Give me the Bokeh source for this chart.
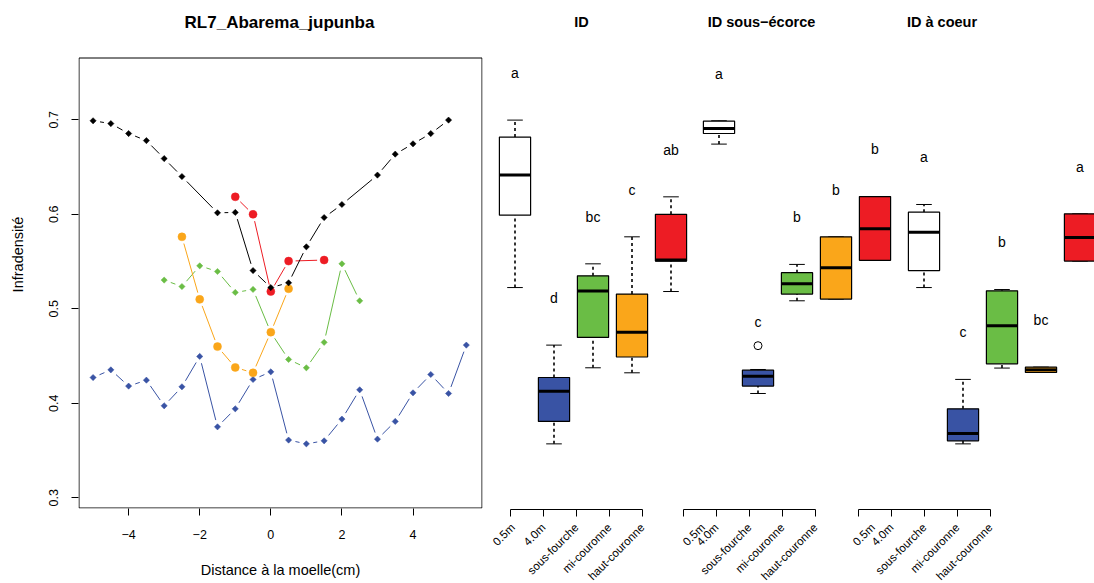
import math
from bokeh.plotting import figure
from bokeh.layouts import row, column
from bokeh.models import Range1d, FixedTicker, ColumnDataSource, BoxAnnotation
from bokeh.embed import file_html
from bokeh.resources import INLINE
from bokeh.core.properties import value

FONT = "Liberation Sans"

# ---------------- data ----------------
groups = ["0.5m", "4.0m", "sous-fourche", "mi-couronne", "haut-couronne"]
box_fill = ["#FFFFFF", "#3953A4", "#6ABD45", "#FAA61A", "#ED1C24"]
series_color = ["#000000", "#3953A4", "#6ABD45", "#FAA61A", "#ED1C24"]
series_marker = ["diamond", "diamond", "diamond", "circle", "circle"]

dist_05m = [-5, -4.5, -4, -3.5, -3, -2.5, -1.5, -1, -0.5, 0, 0.5, 1, 1.5, 2, 3, 3.5, 4, 4.5, 5]
id_05m = [0.699, 0.696, 0.6855, 0.678, 0.659, 0.640, 0.6016, 0.602, 0.5405, 0.5225,
          0.5275, 0.5656, 0.5966, 0.6104, 0.6415, 0.6637, 0.6746, 0.6855, 0.6997]
dist_40m = [-5, -4.5, -4, -3.5, -3, -2.5, -2, -1.5, -1, -0.5, 0, 0.5, 1, 1.5, 2, 2.5,
            3, 3.5, 4, 4.5, 5, 5.5]
id_40m = [0.4273, 0.4354, 0.4182, 0.4245, 0.3974, 0.4175, 0.4496, 0.3751, 0.3942, 0.4252,
          0.4333, 0.3611, 0.3571, 0.3603, 0.3833, 0.4143, 0.3621, 0.3808, 0.4111, 0.4305,
          0.4104, 0.4616]
dist_sf = [-3, -2.5, -2, -1.5, -1, -0.5, 0, 0.5, 1, 1.5, 2, 2.5]
id_sf = [0.5304, 0.5236, 0.5455, 0.5395, 0.5173, 0.5205, 0.475, 0.4464, 0.4376, 0.4645,
         0.5476, 0.5085]
dist_mc = [-2.5, -2, -1.5, -1, -0.5, 0, 0.5]
id_mc = [0.5762, 0.510, 0.460, 0.438, 0.4323, 0.4753, 0.5212]
dist_hc = [-1, -0.5, 0, 0.5, 1.5]
id_hc = [0.6185, 0.600, 0.5183, 0.5505, 0.5516]

id_letters = ["a", "d", "bc", "c", "ab"]

# ID sous-ecorce box statistics
se_lo = [0.6743, 0.4104, 0.5085, 0.5103, 0.5513]
se_q1 = [0.6855, 0.4182, 0.5156, 0.5103, 0.5513]
se_med = [0.6908, 0.4287, 0.5265, 0.5434, 0.5847]
se_q3 = [0.6986, 0.4351, 0.5383, 0.5762, 0.6188]
se_hi = [0.6990, 0.4358, 0.5470, 0.5762, 0.6188]
se_out_group = [2]
se_out_value = [0.461]
se_letters = ["a", "c", "b", "b", "b"]

# ID a coeur box statistics
ac_lo = [0.5225, 0.3571, 0.4373, 0.4326, 0.5505]
ac_q1 = [0.5405, 0.3603, 0.4418, 0.4326, 0.5505]
ac_med = [0.5809, 0.3681, 0.4820, 0.4354, 0.5754]
ac_q3 = [0.6023, 0.3942, 0.5190, 0.4383, 0.6005]
ac_hi = [0.6104, 0.4253, 0.5204, 0.4383, 0.6005]
ac_letters = ["a", "c", "b", "bc", "a"]

y_ticks = [0.3, 0.4, 0.5, 0.6, 0.7]
x_ticks = [-4, -2, 0, 2, 4]

main_title = "RL7_Abarema_jupunba"
panel_titles = ["ID", "ID sous\u2212écorce", "ID à coeur"]

# ---------------- layout constants ----------------
PLOT_TOP = 57      # top of the plotting box, px from page top
PLOT_H = 451       # height of the plotting box
FULL_H = PLOT_TOP + PLOT_H
Y0 = 0.2887
Y_PX = 945.0       # px per unit of infradensity
Y_BOX_TOP = Y0 + PLOT_H / Y_PX
Y_FULL_TOP = Y0 + FULL_H / Y_PX

LEFT_FW = 404
LEFT_X0 = 78
xr = Range1d(-5.41, 5.955)

LETTER_OFFSET = 0.05
BOX_PITCH = 39.0
TITLE_Y_PX = 21.5  # title centre, px from the top of the page


def y_from_top(px):
    return Y0 + (FULL_H - px) / Y_PX


def style_common(p):
    p.toolbar_location = None
    p.background_fill_color = "white"
    p.border_fill_color = "white"
    p.xgrid.visible = False
    p.ygrid.visible = False


def fivenum_stats(vals):
    x = sorted(vals)
    n = len(x)
    n4 = math.floor((n + 3) / 2) / 2
    d = [1, n4, (n + 1) / 2, n + 1 - n4, n]
    fn = [0.5 * (x[math.floor(di) - 1] + x[math.ceil(di) - 1]) for di in d]
    iqr = fn[3] - fn[1]
    inside = [v for v in x if fn[1] - 1.5 * iqr <= v <= fn[3] + 1.5 * iqr]
    return min(inside), fn[1], fn[2], fn[3], max(inside)


def gapped_segments(xs, ys, sx, sy, gap=7.0):
    x0, y0, x1, y1 = [], [], [], []
    for i in range(len(xs) - 1):
        dx = (xs[i + 1] - xs[i]) * sx
        dy = (ys[i + 1] - ys[i]) * sy
        L = math.hypot(dx, dy)
        if L <= 2 * gap:
            continue
        f = gap / L
        x0.append(xs[i] + f * (xs[i + 1] - xs[i]))
        y0.append(ys[i] + f * (ys[i + 1] - ys[i]))
        x1.append(xs[i + 1] - f * (xs[i + 1] - xs[i]))
        y1.append(ys[i + 1] - f * (ys[i + 1] - ys[i]))
    return dict(x0=x0, y0=y0, x1=x1, y1=y1)


# ---------------- left panel ----------------
p1 = figure(frame_width=LEFT_FW, frame_height=FULL_H, x_range=xr,
            y_range=Range1d(Y0, Y_FULL_TOP),
            min_border_left=LEFT_X0, min_border_right=8, min_border_top=0,
            min_border_bottom=75, output_backend="svg", toolbar_location=None)
style_common(p1)
p1.outline_line_color = None
sx = LEFT_FW / (xr.end - xr.start)

# plotting box (drawn just inside the region so no edge is clipped)
p1.add_layout(BoxAnnotation(left=xr.start + 0.5 / sx, right=xr.end - 0.5 / sx,
                            bottom=Y0 + 0.5 / Y_PX, top=Y_BOX_TOP - 0.5 / Y_PX,
                            fill_alpha=0, line_color="black", line_width=1,
                            line_alpha=1))

p1.text(x=[xr.start + (279 - LEFT_X0) / sx], y=[y_from_top(TITLE_Y_PX)],
        text=[main_title], text_align="center", text_baseline="middle",
        text_font=value(FONT), text_font_size="17px", text_font_style="bold",
        text_color="black")

for ax in (p1.xaxis[0], p1.yaxis[0]):
    ax.axis_line_color = None
    ax.major_tick_out = 7
    ax.major_tick_in = 0
    ax.minor_tick_line_color = None
    ax.major_label_text_font = FONT
    ax.major_label_text_font_size = "12.5px"
    ax.axis_label_text_font = FONT
    ax.axis_label_text_font_size = "14.5px"
    ax.axis_label_text_font_style = "normal"
    ax.axis_label_text_color = "black"
    ax.major_tick_line_color = "black"
    ax.major_label_text_color = "black"

p1.xaxis.ticker = FixedTicker(ticks=x_ticks)
p1.xaxis.major_label_overrides = {t: (("\u2212" + str(-t)) if t < 0 else str(t)) for t in x_ticks}
p1.xaxis.axis_label = "Distance à la moelle(cm)"
p1.xaxis.major_label_standoff = 14
p1.xaxis.axis_label_standoff = 20

p1.yaxis.ticker = FixedTicker(ticks=y_ticks)
p1.yaxis.major_label_orientation = "vertical"
p1.yaxis.axis_label = "Infradensité"
p1.yaxis.major_label_standoff = 13
p1.yaxis.axis_label_standoff = 21
# keep the y axis label centred on the plotting box, not the full height
p1.yaxis.bounds = (Y0, Y_BOX_TOP)

series = [
    (dist_40m, id_40m, 1),
    (dist_sf, id_sf, 2),
    (dist_mc, id_mc, 3),
    (dist_hc, id_hc, 4),
    (dist_05m, id_05m, 0),
]
for xs, ys, gi in series:
    col = series_color[gi]
    seg = gapped_segments(xs, ys, sx, Y_PX)
    p1.segment(x0="x0", y0="y0", x1="x1", y1="y1", source=ColumnDataSource(seg),
               line_color=col, line_width=1)
    if series_marker[gi] == "diamond":
        p1.scatter(xs, ys, marker="square", angle=math.pi / 4, size=4.4,
                   fill_color=col, line_color=col, line_width=0.5)
    else:
        p1.scatter(xs, ys, marker="circle", size=8, fill_color=col, line_color=col,
                   line_width=0.5)


# ---------------- box panels ----------------
def box_panel(title, title_px, lo, q1, med, q3, hi, letters, border_left, frame_w,
              border_right, out_group=None, out_value=None):
    x_end = 0.5 + frame_w / BOX_PITCH
    p = figure(frame_width=frame_w, frame_height=FULL_H, x_range=Range1d(0.5, x_end),
               y_range=Range1d(Y0, Y_FULL_TOP),
               min_border_left=border_left, min_border_right=border_right,
               min_border_top=0, min_border_bottom=0, output_backend="svg",
               toolbar_location=None, x_axis_location=None, y_axis_location=None)
    style_common(p)
    p.outline_line_color = None

    first_center = border_left + BOX_PITCH / 2
    tx = 1 + (title_px - first_center) / BOX_PITCH
    p.text(x=[tx], y=[y_from_top(TITLE_Y_PX)], text=[title], text_align="center",
           text_baseline="middle", text_font=value(FONT), text_font_size="14.5px",
           text_font_style="bold", text_color="black")

    pos = list(range(1, len(groups) + 1))
    src = ColumnDataSource(dict(
        x=pos, lo=lo, q1=q1, med=med, q3=q3, hi=hi,
        left=[k - 0.4 for k in pos], right=[k + 0.4 for k in pos],
        sl=[k - 0.2 for k in pos], sr=[k + 0.2 for k in pos],
        fill=box_fill, letter=letters, ly=[h + LETTER_OFFSET for h in hi]))
    p.segment(x0="x", y0="q3", x1="x", y1="hi", source=src, line_color="black",
              line_width=1.6, line_dash="3 3")
    p.segment(x0="x", y0="lo", x1="x", y1="q1", source=src, line_color="black",
              line_width=1.6, line_dash="3 3")
    p.segment(x0="sl", y0="hi", x1="sr", y1="hi", source=src, line_color="black",
              line_width=1)
    p.segment(x0="sl", y0="lo", x1="sr", y1="lo", source=src, line_color="black",
              line_width=1)
    p.quad(left="left", right="right", bottom="q1", top="q3", source=src,
           fill_color="fill", line_color="black", line_width=1.2)
    p.segment(x0="left", y0="med", x1="right", y1="med", source=src,
              line_color="black", line_width=3)
    p.text(x="x", y="ly", text="letter", source=src, text_align="center",
           text_baseline="middle", text_font=value(FONT), text_font_size="14px",
           text_color="black")
    if out_group:
        p.scatter(out_group, out_value, marker="circle", size=8, fill_color=None,
                  line_color="black", line_width=1)
    return p


id_stats = [fivenum_stats(v) for v in (id_05m, id_40m, id_sf, id_mc, id_hc)]
id_lo, id_q1, id_med, id_q3, id_hi = [list(s) for s in zip(*id_stats)]

# panels start at page x 490, 694, 899 ; titles centred at 581, 761, 941.5
p2 = box_panel(panel_titles[0], 581 - 490, id_lo, id_q1, id_med, id_q3, id_hi,
               id_letters, 5, 195, 4)
p3 = box_panel(panel_titles[1], 761 - 694, se_lo, se_q1, se_med, se_q3, se_hi,
               se_letters, 5, 195, 5, se_out_group, se_out_value)
p4 = box_panel(panel_titles[2], 941.5 - 899, ac_lo, ac_q1, ac_med, ac_q3, ac_hi,
               ac_letters, 5, 190, 0)


# ---------------- category axes under the box panels ----------------
def axis_fig(px0, px1, first_tick):
    ticks = [first_tick + 33 * k for k in range(len(groups))]
    p = figure(frame_width=px1 - px0, frame_height=1, x_range=Range1d(px0, px1),
               y_range=Range1d(0, 1), min_border_left=0, min_border_right=0,
               min_border_top=0, min_border_bottom=74, output_backend="svg",
               toolbar_location=None, y_axis_location=None)
    style_common(p)
    p.outline_line_color = None
    ax = p.xaxis[0]
    ax.ticker = FixedTicker(ticks=ticks)
    ax.major_label_overrides = {t: g for t, g in zip(ticks, groups)}
    ax.bounds = (ticks[0], ticks[-1])
    ax.major_label_orientation = math.pi / 4
    ax.major_tick_out = 7
    ax.major_tick_in = 0
    ax.minor_tick_line_color = None
    ax.major_label_standoff = 9
    ax.major_label_text_font = FONT
    ax.major_label_text_font_size = "11.5px"
    ax.major_label_text_color = "black"
    ax.axis_line_color = "black"
    ax.major_tick_line_color = "black"
    return p


a1 = axis_fig(490, 680, 510)
a2 = axis_fig(680, 850, 683)
a3 = axis_fig(850, 1094, 858)

layout = row(p1, column(row(p2, p3, p4), row(a1, a2, a3)))

with open("out.html", "w") as f:
    f.write(file_html(layout, INLINE))
